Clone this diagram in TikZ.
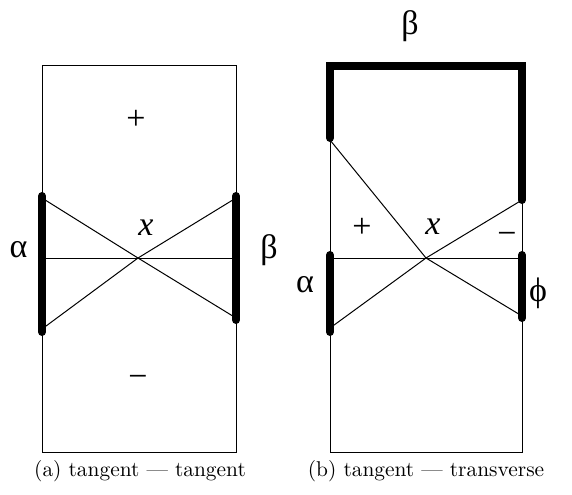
\documentclass[tikz,border=0pt]{standalone}
\usepackage{fontspec}
\newfontfamily\tms{Liberation Serif}
\begin{document}
\begin{tikzpicture}[x=0.5pt,y=-0.5pt,
  thin line/.style={line width=0.5pt},
  thick bar/.style={line width=4pt,line cap=round,line join=miter},
  sym/.style={font=\tms\fontsize{17}{20}\selectfont,inner sep=0pt},
  itsym/.style={font=\tms\itshape\fontsize{17}{20}\selectfont,inner sep=0pt},
  captxt/.style={font=\fontsize{10.7}{12}\selectfont,inner sep=0pt}]
\useasboundingbox (0,0) rectangle (572,494);
% ---------- (a) ----------
\coordinate (aTL) at (42,65);
\coordinate (aBR) at (236,452);
\coordinate (aX) at (138,258);
\coordinate (aL) at (42,258);
\coordinate (aR) at (236,258);
\coordinate (aLt) at (42,198);
\coordinate (aLb) at (42,329);
\coordinate (aRt) at (236,198);
\coordinate (aRb) at (236,318);
\coordinate (aLbarT) at (42,196);
\coordinate (aLbarB) at (42,332);
\coordinate (aRbarT) at (236,196);
\coordinate (aRbarB) at (236,320);
\draw[thin line] (aTL) rectangle (aBR);
\draw[thin line] (aL) -- (aR);
\draw[thin line] (aLt) -- (aX) -- (aRb);
\draw[thin line] (aLb) -- (aX) -- (aRt);
\draw[thick bar] (aLbarT) -- (aLbarB);
\draw[thick bar] (aRbarT) -- (aRbarB);
\node[sym] (aplus) at (136,120) {+};
\node[sym] (aminus) at (138,381) {\char"2212};
\node[itsym] (axl) at (146,228) {x};
\node[sym] (aalpha) at (18.5,250) {α};
\node[sym] (abeta) at (269,250) {β};
\node[captxt] (acap) at (140,471) {(a)\ tangent --- tangent};
% ---------- (b) ----------
\coordinate (bTL) at (330,66);
\coordinate (bTR) at (522,66);
\coordinate (bBR) at (522,452);
\coordinate (bX) at (426,258);
\coordinate (bL) at (330,258);
\coordinate (bR) at (522,258);
\coordinate (bUt) at (330,140);
\coordinate (bLb) at (330,328);
\coordinate (bRt) at (522,200);
\coordinate (bRb) at (522,316);
\coordinate (bTopL) at (330,138);
\coordinate (bTopR) at (522,200);
\coordinate (bLbarT) at (330,255);
\coordinate (bLbarB) at (330,332);
\coordinate (bRbarT) at (522,255);
\coordinate (bRbarB) at (522,318);
\draw[thin line] (bTL) rectangle (bBR);
\draw[thin line] (bL) -- (bR);
\draw[thin line] (bUt) -- (bX) -- (bRb);
\draw[thin line] (bLb) -- (bX) -- (bRt);
\draw[thick bar] (bTopL) -- (bTL) -- (bTR) -- (bTopR);
\draw[thick bar] (bLbarT) -- (bLbarB);
\draw[thick bar] (bRbarT) -- (bRbarB);
\node[sym] (bbeta) at (410,26) {β};
\node[sym] (bplus) at (362,228) {+};
\node[itsym] (bxl) at (433,227) {x};
\node[sym] (bminus) at (507,238) {\char"2212};
\node[sym] (balpha) at (305,285) {α};
\node[sym] (bphi) at (538,293) {ϕ};
\node[captxt] (bcap) at (426,471) {(b)\ tangent --- transverse};
\end{tikzpicture}
\end{document}
